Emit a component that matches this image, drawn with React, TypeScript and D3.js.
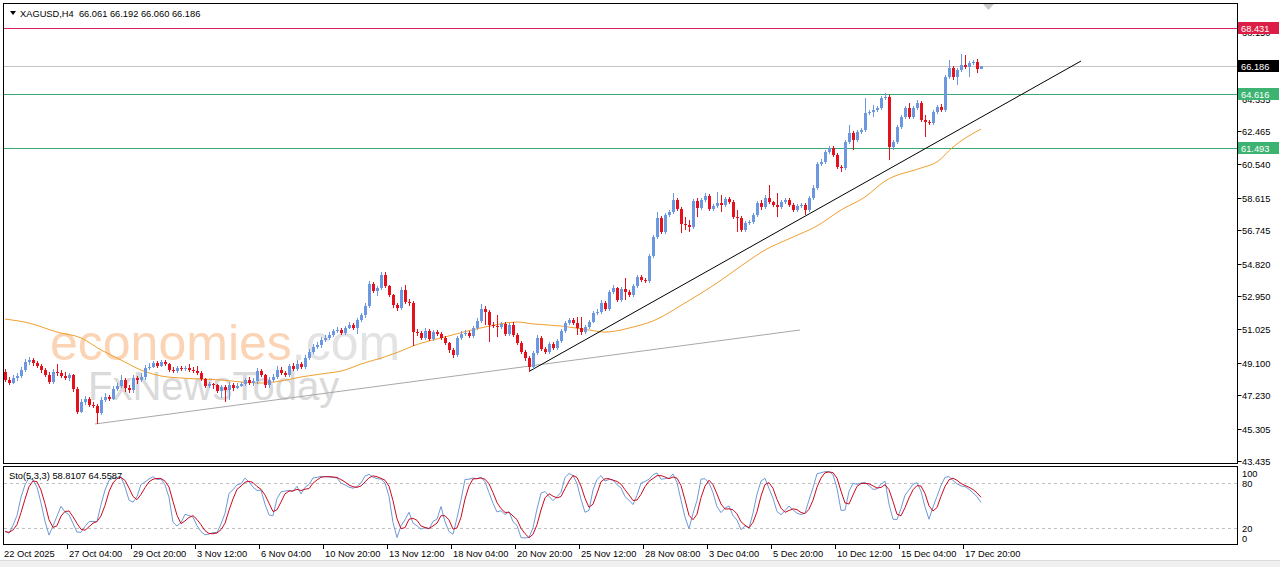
import React, { useEffect, useRef } from 'react';
import * as d3 from 'd3';

// XAGUSD H4 candles (open of each bar = previous close)
const firstOpen = 48.57;
const closes = [
  48.11, 47.93, 48.22, 48.34, 48.68, 49.14, 49.26, 49.09, 48.91, 48.68,
  48.39, 47.99, 48.57, 48.51, 48.34, 48.22, 48.39, 47.59, 46.26, 46.84,
  47.01, 46.66, 46.61, 46.20, 46.95, 47.13, 47.01, 47.59, 47.76, 48.11,
  47.64, 47.53, 48.22, 48.11, 48.28, 48.80, 48.86, 49.09, 48.91, 49.14,
  49.03, 48.68, 48.62, 48.80, 48.74, 48.80, 48.68, 48.62, 48.51, 48.16,
  47.76, 47.87, 47.82, 47.47, 47.70, 47.53, 47.82, 47.64, 47.76, 47.87,
  48.11, 47.93, 48.05, 48.62, 48.39, 47.82, 48.11, 48.28, 48.68, 48.51,
  48.39, 48.91, 48.74, 49.03, 48.86, 49.37, 49.72, 50.01, 50.12, 50.41,
  50.53, 50.70, 50.93, 50.99, 50.82, 51.10, 51.28, 51.10, 51.57, 51.85,
  52.37, 53.64, 53.24, 53.41, 54.16, 53.53, 53.01, 52.43, 52.26, 53.30,
  52.60, 52.55, 50.87, 50.82, 50.53, 50.93, 50.47, 50.87, 50.76, 50.53,
  50.24, 49.84, 49.55, 50.53, 50.76, 50.82, 50.64, 51.10, 51.51, 52.20,
  52.03, 51.28, 51.22, 51.16, 51.34, 50.76, 51.28, 50.70, 50.24, 49.72,
  49.37, 48.86, 49.66, 50.53, 49.89, 49.72, 50.18, 49.95, 50.36, 50.93,
  51.39, 51.57, 51.39, 51.10, 50.87, 51.16, 51.45, 51.97, 52.03, 52.55,
  52.20, 53.18, 53.41, 52.72, 53.35, 53.18, 53.01, 53.53, 54.05, 53.87,
  53.82, 55.26, 56.35, 57.45, 56.64, 57.62, 57.79, 58.49, 57.97, 57.10,
  57.04, 56.93, 58.43, 58.03, 58.49, 58.72, 57.97, 58.14, 58.31, 58.20,
  58.54, 58.37, 57.51, 57.45, 56.76, 57.16, 57.22, 57.62, 58.31, 58.08,
  58.60, 58.37, 58.20, 58.08, 58.37, 58.49, 58.20, 57.91, 58.14, 58.20,
  57.91, 58.60, 59.18, 60.56, 60.68, 61.25, 61.49, 61.08, 60.39, 60.33,
  61.83, 62.35, 61.95, 62.41, 62.52, 63.50, 63.56, 63.68, 63.79, 64.37,
  64.43, 61.54, 61.83, 62.70, 63.27, 63.79, 63.27, 63.79, 64.08, 63.10,
  62.98, 62.93, 63.56, 63.85, 63.68, 65.58, 66.10, 65.58, 65.98, 66.27,
  66.16, 66.39, 66.44, 66.061, 66.186,
];
const highs = [
  48.74, 48.28, 48.39, 48.51, 48.86, 49.31, 49.43, 49.37, 49.20, 49.03,
  48.80, 48.57, 48.74, 49.03, 48.68, 48.57, 48.51, 48.45, 47.70, 47.01,
  47.18, 47.13, 46.84, 46.72, 47.13, 47.36, 47.24, 47.76, 47.93, 48.39,
  48.22, 47.82, 48.39, 48.34, 48.51, 48.97, 49.09, 49.20, 49.20, 49.26,
  49.26, 49.09, 48.86, 48.91, 48.91, 48.91, 49.03, 48.86, 48.91, 48.62,
  48.22, 47.99, 47.93, 47.87, 47.82, 47.82, 47.99, 47.93, 47.93, 47.99,
  48.22, 48.28, 48.22, 48.80, 48.74, 48.45, 48.28, 48.45, 48.91, 48.86,
  48.62, 49.03, 49.09, 49.26, 49.14, 49.55, 49.89, 50.18, 50.30, 50.58,
  50.70, 50.87, 51.05, 51.16, 51.10, 51.22, 51.45, 51.39, 51.68, 51.97,
  52.55, 53.81, 53.76, 53.53, 54.33, 54.33, 53.58, 53.07, 52.55, 53.47,
  53.58, 52.78, 52.66, 51.05, 50.93, 51.10, 51.05, 50.99, 50.99, 50.87,
  50.64, 50.30, 49.95, 50.64, 50.93, 50.99, 50.93, 51.22, 51.68, 52.49,
  52.37, 52.14, 51.45, 51.85, 51.45, 51.45, 51.39, 51.45, 50.82, 50.35,
  49.84, 49.49, 49.78, 50.70, 50.64, 50.01, 50.30, 50.30, 50.47, 51.05,
  51.51, 51.68, 51.68, 51.74, 51.74, 51.28, 51.57, 52.09, 52.20, 52.72,
  52.66, 53.30, 53.58, 53.47, 53.47, 53.99, 53.30, 53.64, 54.16, 54.16,
  53.99, 55.37, 56.47, 57.79, 57.56, 57.74, 57.91, 58.89, 58.60, 58.08,
  57.51, 57.33, 58.54, 58.60, 58.60, 58.89, 58.83, 58.26, 58.95, 58.77,
  58.66, 58.66, 58.49, 57.91, 57.56, 57.27, 57.33, 57.74, 58.43, 58.49,
  58.77, 59.35, 58.43, 58.89, 58.49, 58.60, 58.60, 58.31, 58.26, 58.31,
  58.31, 58.72, 59.35, 60.68, 60.85, 61.37, 61.60, 61.60, 61.20, 60.50,
  61.95, 62.81, 62.47, 62.52, 62.64, 64.37, 63.68, 63.96, 63.91, 64.49,
  64.66, 64.54, 61.95, 62.81, 63.39, 63.91, 64.08, 63.91, 64.25, 64.20,
  63.39, 63.10, 63.68, 63.96, 64.02, 65.70, 66.56, 66.21, 66.10, 66.91,
  66.85, 66.50, 66.56, 66.62, 66.192,
];
const lows = [
  47.99, 47.82, 47.87, 48.05, 48.22, 48.57, 48.97, 48.91, 48.80, 48.51,
  48.28, 47.87, 47.87, 48.34, 48.22, 48.11, 48.05, 47.41, 46.15, 46.20,
  46.66, 46.55, 46.49, 45.57, 46.09, 46.84, 46.90, 46.95, 47.47, 47.64,
  47.41, 47.36, 47.36, 47.87, 47.99, 48.11, 48.68, 48.80, 48.80, 48.86,
  48.91, 48.57, 48.51, 48.51, 48.62, 48.62, 48.57, 48.51, 48.39, 48.05,
  47.64, 47.64, 47.59, 47.36, 47.07, 46.84, 46.95, 47.47, 47.59, 47.70,
  47.76, 47.82, 47.76, 47.87, 48.28, 47.64, 47.64, 47.99, 48.16, 48.39,
  48.28, 48.28, 48.62, 48.62, 48.74, 48.74, 49.26, 49.61, 49.89, 49.95,
  50.30, 50.41, 50.58, 50.82, 50.70, 50.70, 51.05, 50.99, 50.76, 51.45,
  51.68, 52.26, 53.12, 52.95, 53.30, 53.41, 52.89, 52.26, 52.09, 52.14,
  52.49, 52.37, 50.07, 50.64, 50.41, 50.41, 50.35, 50.35, 50.64, 50.41,
  50.12, 49.66, 49.37, 49.43, 50.41, 50.64, 50.53, 50.53, 50.99, 51.39,
  51.28, 50.30, 51.10, 50.59, 51.05, 50.64, 50.64, 50.58, 50.12, 49.61,
  49.20, 48.57, 48.74, 49.55, 49.78, 49.61, 49.61, 49.84, 49.84, 50.24,
  50.82, 51.28, 51.28, 50.70, 50.70, 50.76, 51.05, 51.39, 51.85, 51.91,
  52.09, 52.09, 53.07, 52.60, 52.60, 52.72, 52.89, 52.89, 53.41, 53.76,
  53.70, 53.70, 55.14, 56.24, 56.53, 56.53, 57.51, 57.68, 57.85, 56.58,
  56.76, 56.64, 56.82, 57.51, 57.91, 58.37, 57.85, 57.85, 58.03, 57.79,
  58.08, 58.26, 57.39, 56.64, 56.64, 56.64, 57.04, 57.10, 57.51, 57.91,
  57.97, 58.26, 58.08, 57.51, 57.97, 58.26, 58.08, 57.79, 57.79, 58.03,
  57.62, 57.79, 58.49, 59.06, 60.45, 60.56, 61.14, 60.97, 60.27, 60.10,
  60.22, 61.72, 61.37, 61.83, 62.29, 62.41, 63.39, 63.27, 63.56, 63.68,
  64.25, 60.79, 61.37, 61.72, 62.58, 63.16, 63.16, 63.16, 63.68, 62.98,
  62.12, 62.81, 62.81, 63.45, 63.56, 63.56, 65.47, 65.41, 65.12, 65.87,
  66.04, 65.58, 66.27, 65.81, 66.060,
];

// orange moving average, read at a few bars
const maBars = [0, 6, 13, 19, 24, 29, 34, 39, 44, 49, 54, 59, 64, 69, 74, 79, 85, 89, 94, 99, 102, 110, 120, 128, 132, 139, 146, 150, 157, 162, 170, 178, 184, 190, 197, 203, 209, 215, 220, 229, 233, 237, 244];
const maValues = [51.62, 51.39, 50.87, 50.53, 49.84, 49.26, 48.68, 48.34, 48.22, 48.16, 48.11, 47.99, 47.93, 48.05, 48.28, 48.45, 48.68, 49.03, 49.37, 49.78, 50.07, 50.59, 51.16, 51.45, 51.34, 51.22, 50.99, 50.87, 51.16, 51.51, 52.55, 53.70, 54.68, 55.60, 56.35, 56.99, 57.91, 58.66, 59.58, 60.33, 60.68, 61.54, 62.58];

const priceTicks = [43.435, 45.305, 47.230, 49.100, 51.025, 52.950, 54.820, 56.745, 58.615, 60.540, 62.465, 64.335, 66.260, 68.150];
const stochTicks = [100, 80, 20, 0];
const timeLabels = ['27 Oct 04:00', '29 Oct 20:00', '3 Nov 12:00', '6 Nov 04:00', '10 Nov 20:00', '13 Nov 12:00', '18 Nov 04:00', '20 Nov 20:00', '25 Nov 12:00', '28 Nov 08:00', '3 Dec 04:00', '5 Dec 20:00', '10 Dec 12:00', '15 Dec 04:00', '17 Dec 20:00'];
const timeLabelBars = [16, 32, 48, 64, 80, 96, 112, 128, 144, 160, 176, 192, 208, 224, 240];
const firstDate = '22 Oct 2025';

const resistance = 68.431;
const supports = [64.616, 61.493];
const lastPrice = 66.186;
const header = 'XAGUSD,H4  66.061 66.192 66.060 66.186';
const stochText = 'Sto(5,3,3) 58.8107 64.5587';

// trendlines as [bar, price]
const steepTrend: [number, number][] = [[131, 48.6], [269, 66.5]];
const baseTrend: [number, number][] = [[22.5, 45.57], [198.75, 50.99]];

const BULL = '#6b98e0';
const BEAR = '#e3121c';
const FONT = '"Liberation Sans", Arial, sans-serif';

const App: React.FC = () => {
  const svgRef = useRef<SVGSVGElement>(null);

  useEffect(() => {
    if (!svgRef.current) return;
    const svg = d3.select(svgRef.current);
    svg.selectAll('*').remove();

    const x = d3.scaleLinear().domain([0, closes.length - 1]).range([5, 981]);
    const y = d3.scaleLinear().domain([43.435, 62.465]).range([461, 131]);
    const ys = d3.scaleLinear().domain([0, 100]).range([543.5, 468.5]);
    const right = 1237.5;

    svg.append('rect').attr('width', 1280).attr('height', 567).attr('fill', '#fff');
    svg.append('rect').attr('x', 0).attr('y', 561).attr('width', 1280).attr('height', 6).attr('fill', '#f0f0f0');
    svg.append('line').attr('x1', 0).attr('x2', 1280).attr('y1', 560.5).attr('y2', 560.5).attr('stroke', '#dcdcdc');

    const defs = svg.append('defs');
    defs.append('clipPath').attr('id', 'mainClip').append('rect')
      .attr('x', 4).attr('y', 4).attr('width', right - 4).attr('height', 459);
    defs.append('clipPath').attr('id', 'stochClip').append('rect')
      .attr('x', 4).attr('y', 467).attr('width', right - 4).attr('height', 77);

    const main = svg.append('g').attr('clip-path', 'url(#mainClip)');

    // watermark
    const wm1 = main.append('text').attr('x', 50).attr('y', 360)
      .attr('font-family', FONT).attr('font-size', 50);
    wm1.append('tspan').attr('fill', '#fbd4b6').text('economies');
    wm1.append('tspan').attr('fill', '#e3e3e3').text('.com');
    main.append('text').attr('x', 88).attr('y', 400)
      .attr('font-family', FONT).attr('font-size', 40).attr('fill', '#dadada')
      .text('FxNewsToday');

    // horizontal levels
    const hline = (v: number, color: string) =>
      main.append('line').attr('x1', 4).attr('x2', right).attr('y1', Math.round(y(v)) + 0.5).attr('y2', Math.round(y(v)) + 0.5)
        .attr('stroke', color).attr('stroke-width', 1);
    hline(resistance, '#d8245a');
    hline(lastPrice, '#c4c4c4');
    supports.forEach(v => hline(v, '#3aa876'));

    // moving average
    const maLine = d3.line<number>()
      .x((_, i) => x(maBars[i]))
      .y(d => y(d))
      .curve(d3.curveMonotoneX);
    main.append('path').attr('d', maLine(maValues)).attr('fill', 'none')
      .attr('stroke', '#f0a030').attr('stroke-width', 1);

    // trendlines
    const tl = d3.line<[number, number]>().x(d => x(d[0])).y(d => y(d[1]));
    main.append('path').attr('d', tl(baseTrend)).attr('stroke', '#a8a8a8').attr('stroke-width', 1).attr('fill', 'none');
    main.append('path').attr('d', tl(steepTrend)).attr('stroke', '#000').attr('stroke-width', 1).attr('fill', 'none');

    // candles
    const bars = closes.map((c, i) => {
      const o = i === 0 ? firstOpen : closes[i - 1];
      return { i, o, c, h: Math.max(highs[i], o, c), l: Math.min(lows[i], o, c) };
    });
    const cg = main.append('g').attr('shape-rendering', 'crispEdges')
      .selectAll('g').data(bars).enter().append('g');
    const col = (d: typeof bars[number]) => (d.c >= d.o ? BULL : BEAR);
    cg.append('line')
      .attr('x1', d => Math.round(x(d.i)) + 0.5).attr('x2', d => Math.round(x(d.i)) + 0.5)
      .attr('y1', d => y(d.h)).attr('y2', d => y(d.l))
      .attr('stroke', col);
    cg.append('rect')
      .attr('x', d => Math.round(x(d.i)) - 1)
      .attr('width', 3)
      .attr('y', d => y(Math.max(d.o, d.c)))
      .attr('height', d => Math.max(1, Math.abs(y(d.o) - y(d.c))))
      .attr('fill', col);

    // header
    svg.append('path').attr('d', 'M10,11 L16,11 L13,15 Z').attr('fill', '#000');
    svg.append('text').attr('x', 20).attr('y', 16.5).attr('font-family', FONT).attr('font-size', 9.3)
      .style('white-space', 'pre').text(header);
    svg.append('path').attr('d', 'M983,4 L994,4 L988.5,10 Z').attr('fill', '#c8c8c8');

    // stochastic
    const kPeriod = 5, slowing = 3, dPeriod = 3;
    const num = bars.map((b, i) => b.c - (d3.min(bars.slice(Math.max(0, i - kPeriod + 1), i + 1), d => d.l) as number));
    const den = bars.map((_, i) => {
      const w = bars.slice(Math.max(0, i - kPeriod + 1), i + 1);
      return (d3.max(w, d => d.h) as number) - (d3.min(w, d => d.l) as number);
    });
    const kLine = bars.map((_, i) => {
      const a = Math.max(0, i - slowing + 1);
      const dd = d3.sum(den.slice(a, i + 1));
      return dd ? (d3.sum(num.slice(a, i + 1)) / dd) * 100 : 50;
    });
    const dLine = kLine.map((_, i) => d3.mean(kLine.slice(Math.max(0, i - dPeriod + 1), i + 1)) as number);

    const st = svg.append('g').attr('clip-path', 'url(#stochClip)');
    [80, 20].forEach(v => {
      st.append('line').attr('x1', 4).attr('x2', right).attr('y1', ys(v)).attr('y2', ys(v))
        .attr('stroke', '#c0c0c0').attr('stroke-dasharray', '3,3');
    });
    const sl = d3.line<number>().x((_, i) => x(i)).y(d => ys(d));
    st.append('path').attr('d', sl(kLine)).attr('fill', 'none').attr('stroke', '#6f9ad6').attr('stroke-width', 1);
    st.append('path').attr('d', sl(dLine)).attr('fill', 'none').attr('stroke', '#cc0a1e').attr('stroke-width', 1);
    svg.append('text').attr('x', 9).attr('y', 478.5).attr('font-family', FONT).attr('font-size', 9.3).text(stochText);

    // frames
    svg.append('rect').attr('x', 3.5).attr('y', 3.5).attr('width', right - 3.5).attr('height', 460)
      .attr('fill', 'none').attr('stroke', '#000');
    svg.append('rect').attr('x', 3.5).attr('y', 466.5).attr('width', right - 3.5).attr('height', 78)
      .attr('fill', 'none').attr('stroke', '#000');

    // price axis
    const pa = svg.append('g').attr('font-family', FONT).attr('font-size', 9.3);
    priceTicks.forEach(v => {
      const yy = Math.round(y(v)) + 0.5;
      pa.append('line').attr('x1', right).attr('x2', right + 4).attr('y1', yy).attr('y2', yy).attr('stroke', '#000');
      pa.append('text').attr('x', 1242).attr('y', yy + 3.5).text(v.toFixed(3));
    });
    const tag = (v: number, bg: string) => {
      const yy = Math.round(y(v)) + 0.5;
      pa.append('rect').attr('x', right + 0.5).attr('y', yy - 6.5).attr('width', 41).attr('height', 12).attr('fill', bg);
      pa.append('text').attr('x', 1241).attr('y', yy + 3.5).attr('fill', '#fff').text(v.toFixed(3));
    };
    tag(resistance, '#dc1e46');
    tag(lastPrice, '#000');
    supports.forEach(v => tag(v, '#3cb371'));

    // stochastic axis
    stochTicks.forEach(v => {
      const yy = Math.min(538, Math.max(473, ys(v)));
      pa.append('text').attr('x', 1242).attr('y', yy + 3.5).text(String(v));
    });

    // time axis
    const ta = svg.append('g').attr('font-family', FONT).attr('font-size', 9.3);
    ta.append('text').attr('x', 4).attr('y', 556.5).text(firstDate);
    timeLabelBars.forEach((b, k) => {
      const xx = Math.round(x(b)) - 1.5;
      ta.append('line').attr('x1', xx).attr('x2', xx).attr('y1', 544.5).attr('y2', 549).attr('stroke', '#000');
      ta.append('text').attr('x', xx + 1.5).attr('y', 556.5).text(timeLabels[k]);
    });
  }, []);

  return (
    <svg ref={svgRef} width={1280} height={567}
      style={{ position: 'absolute', left: 0, top: 0, display: 'block' }} />
  );
};

export default App;
